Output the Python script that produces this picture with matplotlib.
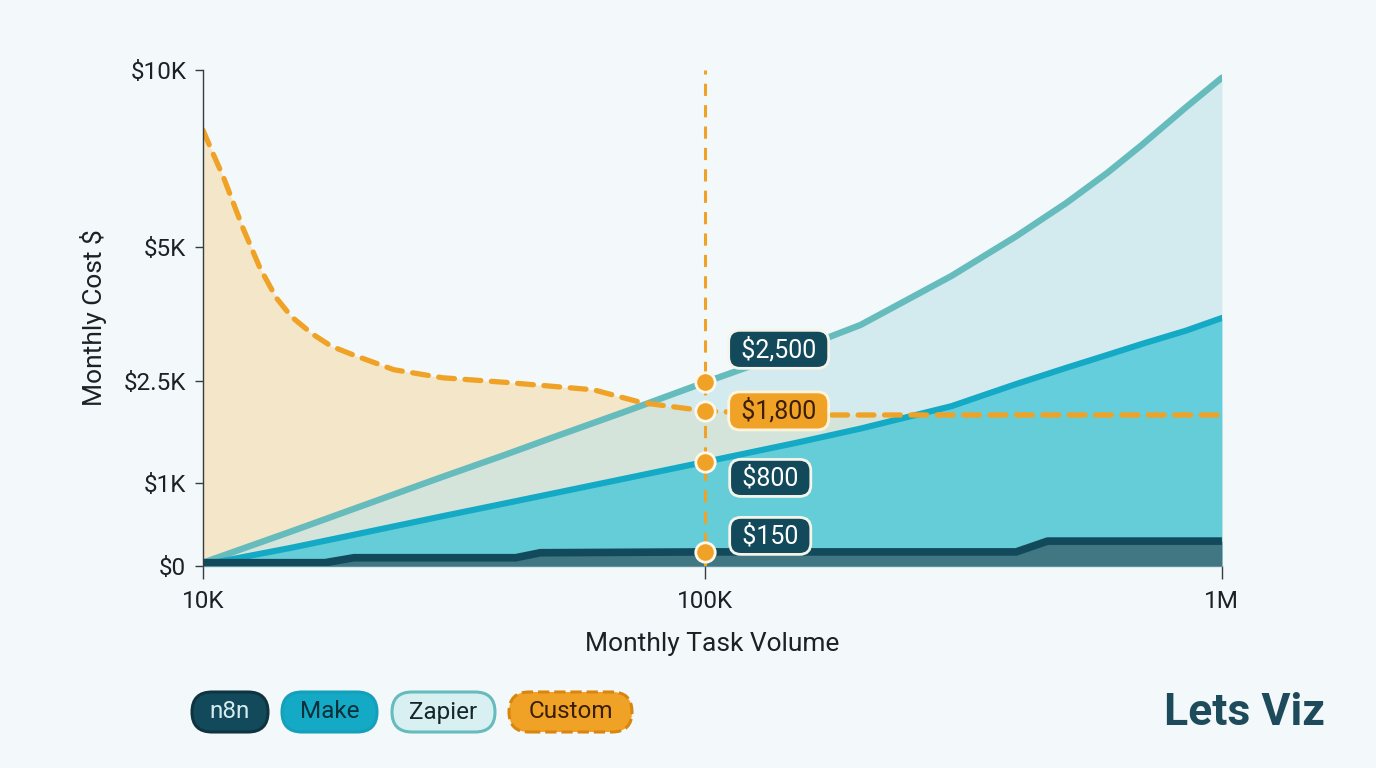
import matplotlib.pyplot as plt
from matplotlib.scale import FuncScale
from matplotlib.patches import FancyBboxPatch
from matplotlib.transforms import IdentityTransform
import numpy as np

# ---- data (monthly task volume -> monthly cost in $) ----
volume = [10e3, 15e3, 20e3, 30e3, 40e3, 50e3, 70e3, 100e3, 150e3, 200e3,
          300e3, 400e3, 500e3, 600e3, 700e3, 850e3, 1e6]
zapier = [40, 417, 690, 1090, 1415, 1675, 2060, 2480, 3080, 3545,
          4460, 5300, 6240, 7090, 7880, 8930, 9780]
make = [15, 220, 377, 600, 755, 876, 1072, 1310, 1590, 1800,
        2130, 2455, 2745, 2985, 3190, 3435, 3675]

n8n_volume = [10e3, 17.5e3, 20e3, 42e3, 47e3, 100e3, 400e3, 460e3, 1e6]
n8n = [40, 40, 100, 100, 160, 170, 170, 300, 300]

custom_volume = [10e3, 10.5e3, 11e3, 12e3, 13e3, 14e3, 15e3, 16.5e3, 18e3, 20e3,
                 24e3, 30e3, 40e3, 60e3, 75e3, 100e3, 150e3, 1e6]
custom = [8300, 7600, 6950, 5550, 4600, 4050, 3700, 3380, 3150, 2980,
          2710, 2560, 2480, 2370, 2180, 2060, 2000, 2000]

y_ticks = [0, 1000, 2500, 5000, 10000]
y_ticklabels = ['$0', '$1K', '$2.5K', '$5K', '$10K']
x_ticks = [10e3, 100e3, 1e6]
x_ticklabels = ['10K', '100K', '1M']
callout_labels = ['$2,500', '$1,800', '$800', '$150']
legend_names = ['n8n', 'Make', 'Zapier', 'Custom']

# axis spacing used by the original chart
scale_vals = [0, 1000, 2500, 5000, 10000]
scale_pos = [0, 83, 185, 319, 496]
xscale_dec = [4, 5, 6]
xscale_pos = [0, 502, 1019]

BG = '#f3f8fa'
DARK = '#134a5b'
MAKE = '#14a9c5'
ZAP = '#66bcbd'
ORANGE = '#f0a226'
TXT = '#1b2226'

plt.rcParams['font.family'] = ['Roboto', 'DejaVu Sans']

fig = plt.figure(figsize=(13.76, 7.68), dpi=100, facecolor=BG)
ax = fig.add_axes([0.1475, 0.263, 0.7405, 0.646])
ax.set_facecolor(BG)

ax.set_xscale(FuncScale(ax.xaxis, (
    lambda v: np.interp(np.log10(np.clip(v, 1, None)), xscale_dec, xscale_pos),
    lambda p: 10 ** np.interp(p, xscale_pos, xscale_dec))))
ax.set_yscale(FuncScale(ax.yaxis, (lambda v: np.interp(v, scale_vals, scale_pos),
                                   lambda p: np.interp(p, scale_pos, scale_vals))))
ax.set_xlim(1e4, 1e6)
ax.set_ylim(0, 10000)

# fills
ax.fill_between(custom_volume, 0, custom, color='#f5e4c4', alpha=0.9, lw=0, zorder=1)
ax.fill_between(volume, 0, zapier, color='#bfe3e6', alpha=0.6, lw=0, zorder=2)
ax.fill_between(volume, 0, make, color='#4cc8d8', alpha=0.82, lw=0, zorder=3)
ax.fill_between(n8n_volume, 0, n8n, color='#3e737f', alpha=0.95, lw=0, zorder=4)

# lines
ax.plot(volume, zapier, color=ZAP, lw=4.6, solid_capstyle='round',
        solid_joinstyle='round', zorder=6)
ax.plot(volume, make, color=MAKE, lw=4.4, solid_capstyle='round',
        solid_joinstyle='round', zorder=6)
ax.plot(n8n_volume, n8n, color=DARK, lw=5.5, solid_capstyle='butt', zorder=6)
ax.plot(custom_volume, custom, color=ORANGE, lw=3.8, ls=(0, (3, 2)),
        dash_capstyle='round', zorder=7)

# vertical guide at 100K
ax.axvline(100e3, color=ORANGE, lw=2.2, ls=(0, (4, 3)), zorder=8)

# markers + callouts
i100 = volume.index(100e3)
points = [zapier[i100], custom[custom_volume.index(100e3)], make[i100],
          n8n[n8n_volume.index(100e3)]]
offsets = [(30, 33), (30, 0), (31, -16), (31, 16)]
for val, lab, off in zip(points, callout_labels, offsets):
    ax.plot([100e3], [val], 'o', ms=14, color=ORANGE, mec='#fff8ea', mew=2, zorder=10)
    is_custom = lab == '$1,800'
    ax.annotate(' ' + lab + ' ', xy=(100e3, val), xytext=off,
                textcoords='offset pixels', ha='left', va='center', fontsize=18,
                color='#3b1e08' if is_custom else 'white', zorder=11,
                bbox=dict(boxstyle='round,pad=0.25,rounding_size=0.45',
                          fc=ORANGE if is_custom else DARK,
                          ec='#fff5dc' if is_custom else '#f4f4ea', lw=2))

# axes styling
for s in ['top', 'right']:
    ax.spines[s].set_visible(False)
ax.spines['left'].set_color('#333d42')
ax.spines['left'].set_linewidth(1)
ax.spines['bottom'].set_color('#9aa8ad')
ax.spines['bottom'].set_linewidth(1)
ax.spines['left'].set_zorder(9)

ax.set_yticks(y_ticks)
ax.set_yticklabels(y_ticklabels)
ax.set_xticks(x_ticks)
ax.set_xticklabels(x_ticklabels)
ax.xaxis.set_minor_locator(plt.NullLocator())
ax.yaxis.set_minor_locator(plt.NullLocator())
ax.tick_params(axis='y', length=6, width=1, color='#333d42', pad=6,
               labelsize=17.5, labelcolor=TXT)
ax.tick_params(axis='x', length=9, width=1, color='#333d42', pad=8,
               labelsize=17.5, labelcolor=TXT)

ax.set_xlabel('Monthly Task Volume', fontsize=19, color=TXT, labelpad=14)
ax.set_ylabel('Monthly Cost $', fontsize=19, color=TXT, labelpad=12)

# legend pills (pixel geometry)
pill_left = [192, 282, 392, 509]
pill_width = [76, 95, 103, 123]
pill_fc = [DARK, MAKE, '#d8f0f1', ORANGE]
pill_ec = ['#0f3440', '#14a0bb', ZAP, '#d9860e']
pill_tc = ['#d6ecef', '#0d2f3a', '#16262c', '#3b1e08']
pill_ls = ['-', '-', '-', '--']
H = 768
for name, x0, w, fc, ec, tc, ls in zip(legend_names, pill_left, pill_width,
                                       pill_fc, pill_ec, pill_tc, pill_ls):
    y0 = H - 732
    fig.patches.append(FancyBboxPatch((x0, y0), w, 40,
                                      boxstyle='round,pad=0,rounding_size=20',
                                      fc=fc, ec=ec, lw=2.2, ls=ls,
                                      transform=IdentityTransform()))
    fig.text((x0 + w / 2) / 1376, (y0 + 20) / H, name, ha='center', va='center',
             fontsize=17.5, color=tc)

fig.text(0.963, 0.071, 'Lets Viz', ha='right', va='center', fontsize=32,
         fontweight='bold', color='#1d4b5b')

plt.savefig('out.png', dpi=100, facecolor=BG)
